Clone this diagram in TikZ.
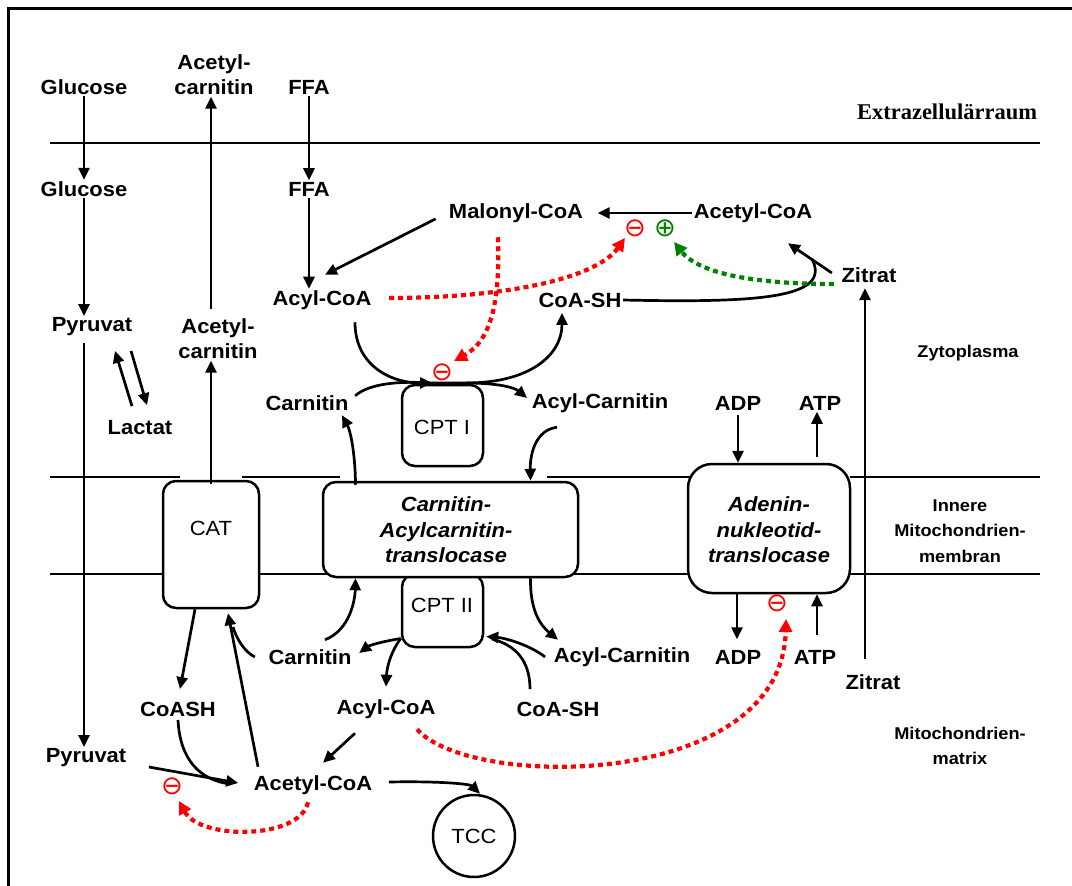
\documentclass[tikz,border=0pt]{standalone}
\usepackage{fontspec}
\setmainfont{Liberation Sans}[FakeStretch=1.07]
\newfontfamily\serifb{Liberation Serif}
\newfontfamily\symf{DejaVu Sans}
\usetikzlibrary{arrows.meta,calc}
\begin{document}
\begin{tikzpicture}[x=1pt,y=-1pt,
  lab/.style={font=\bfseries\fontsize{20.5}{25}\selectfont, inner sep=1.5, align=center},
  itl/.style={font=\bfseries\itshape\fontsize{20.5}{25.5}\selectfont, inner sep=0, align=center},
  reg/.style={font=\bfseries\fontsize{17}{25.5}\selectfont, inner sep=0, align=center},
  arr/.style={line width=2.7, -{Triangle[length=12,width=11]}},
  ln/.style={line width=2.7},
  mem/.style={line width=1.7},
  enz/.style={draw, line width=2.5, rounded corners=13, fill=white, inner sep=0},
  inh/.style={line width=4.2, dash pattern=on 5 off 4, -{Triangle[length=13,width=13]}},
  sym/.style={font=\symf\fontsize{26}{26}\selectfont, inner sep=0}
]
\useasboundingbox (0,0) rectangle (1072,886);
% frame
\draw[line width=3] (8,886) -- (8,8) -- (1072,8);
% membranes
\draw[mem] (50,143) -- (1040,143);
\draw[mem] (50,477) -- (180,477);
\draw[mem] (242,477) -- (340,477);
\draw[mem] (547,477) -- (690,477);
\draw[mem] (850,477) -- (1040,477);
\draw[mem] (50,574) -- (1040,574);

% region labels
\node[font=\serifb\bfseries\fontsize{22.5}{25}\selectfont, inner sep=0] (extra) at (947,112) {Extrazellulärraum};
\node[reg] (zyto) at (968,353) {Zytoplasma};
\node[reg] (imm) at (960,531) {Innere\\Mitochondrien-\\membran};
\node[reg] (matrix) at (960,746) {Mitochondrien-\\matrix};

% boxes
\node[enz, minimum width=81, minimum height=81] (cpt1) at (442.5,425.5) {};
\node[lab] (cpt1t) at (442,427) {\mdseries CPT I};
\node[enz, minimum width=81, minimum height=73] (cpt2) at (442.5,610.5) {};
\node[lab] (cpt2t) at (442,605) {\mdseries CPT II};
\node[enz, minimum width=96, minimum height=127] (cat) at (211,544.5) {};
\node[lab] (catt) at (211,528) {\mdseries CAT};
\node[enz, minimum width=255, minimum height=95] (trans) at (450.5,529.5) {};
\node[itl] (transt) at (446,530) {Carnitin-\\Acylcarnitin-\\translocase};
\node[enz, rounded corners=24, minimum width=162, minimum height=129] (aden) at (769,528.5) {};
\node[itl] (adent) at (769,530) {Adenin-\\nukleotid-\\translocase};
\node[circle, draw, line width=2.5, minimum size=82, inner sep=0, font=\fontsize{20.5}{25}\selectfont] (tcc) at (474,836) {TCC};

% labels
\node[lab] (glc1) at (84,87) {Glucose};
\node[lab] (acc1) at (214,75) {Acetyl-\\carnitin};
\node[lab] (ffa1) at (309,87) {FFA};
\node[lab] (glc2) at (84,189) {Glucose};
\node[lab] (ffa2) at (309,189) {FFA};
\node[lab] (mal) at (516,213) {Malonyl-CoA};
\node[lab] (acoa1) at (753,213) {Acetyl-CoA};
\node[lab] (zit1) at (869,275) {Zitrat};
\node[lab] (acyl1) at (322,300) {Acyl-CoA};
\node[lab] (coash1) at (580,300) {CoA-SH};
\node[lab] (pyr1) at (92,327) {Pyruvat};
\node[lab] (acc2) at (218,339) {Acetyl-\\carnitin};
\node[lab] (lac) at (140,428) {Lactat};
\node[lab] (carn1) at (307,403) {Carnitin};
\node[lab] (acarn1) at (600,403) {Acyl-Carnitin};
\node[lab] (adp1) at (738,403) {ADP};
\node[lab] (atp1) at (820,403) {ATP};
\node[lab] (carn2) at (310,657) {Carnitin};
\node[lab] (acarn2) at (622,657) {Acyl-Carnitin};
\node[lab] (adp2) at (738,657) {ADP};
\node[lab] (atp2) at (815,657) {ATP};
\node[lab] (zit2) at (873,682) {Zitrat};
\node[lab] (coash2) at (178,709) {CoASH};
\node[lab] (acyl2) at (386,709) {Acyl-CoA};
\node[lab] (coash3) at (558,709) {CoA-SH};
\node[lab] (pyr2) at (86,758) {Pyruvat};
\node[lab] (acoa2) at (313,785) {Acetyl-CoA};

% symbols
\node[sym, text=red] (m1) at (635,228) {⊖};
\node[sym, text=green!50!black] (p1) at (665,228) {⊕};
\node[sym, text=red] (m2) at (442,372) {⊖};
\node[sym, text=red] (m3) at (777,603) {⊖};
\node[sym, text=red] (m4) at (172,786) {⊖};

% left column
\draw[arr] (glc1) -- (glc2);
\draw[arr] (glc2.south) -- (glc2.south |- pyr1.north);
\draw[arr, shorten <=5] ([xshift=-8]pyr1.south) -- ([xshift=-2]pyr2.north);
\draw[arr] ([xshift=-8,yshift=13]lac.north) -- ([xshift=23,yshift=-13]pyr1.south);
\draw[arr] ([xshift=39,yshift=-13]pyr1.south) -- ([xshift=7,yshift=14]lac.north);
\draw[arr, shorten <=8] ([xshift=-7]acc2.north) -- ([xshift=-3]acc1.south);
\draw[arr, shorten <=-4] ([xshift=0]cat.north) -- ([xshift=-7]acc2.south);
\draw[arr] (ffa1) -- (ffa2);
\draw[arr] (ffa2.south) -- (ffa2.south |- acyl1.north);

% cytoplasm
\draw[arr, shorten <=13] (mal.west) -- ([xshift=3,yshift=14]acyl1.north);
\draw[arr, shorten >=13] (acoa1.west) -- (mal.east);
\draw[arr] ([xshift=-8,yshift=2]zit1.west) coordinate (zw) -- ([xshift=35,yshift=-19]acoa1.south);
\draw[ln] (coash1.east) .. controls (760,303) and (832,298) .. (812,259);
\draw[arr] ([xshift=-8]zit2.north) ++(0,-14) -- ([xshift=-4,yshift=-4]zit1.south);

% CPT I
\coordinate (j1) at (432,383);
\draw[arr] ([xshift=33,yshift=-11]acyl1.south) .. controls (355,365) and (390,383) .. (j1);
\draw[ln] ([xshift=5,yshift=-2]carn1.north east) .. controls (370,383) and (400,381) .. (j1);
\draw[arr] (j1) -- (466,383) .. controls (530,383) and (562,355) .. ([xshift=-18,yshift=-4]coash1.south);
\draw[arr] (466,383) .. controls (500,383) and (515,388) .. ([xshift=-3,yshift=5]acarn1.west);
\draw[arr] ([xshift=-43,yshift=-13]acarn1.south) .. controls (535,430) and (530,455) .. ([xshift=80]trans.north);
\draw[arr, shorten <=-4] ([xshift=-95]trans.north) .. controls (355,450) and (350,430) .. ([xshift=35,yshift=-3]carn1.south);

% CPT II
\draw[arr] ([xshift=15,yshift=8]carn2.north) .. controls (350,630) and (355,600) .. ([xshift=-95]trans.south);
\draw[arr] ([xshift=80]trans.south) .. controls (530,610) and (540,625) .. ([xshift=6,yshift=6]acarn2.north west);
\draw[arr] ([yshift=-28]cpt2.west) .. controls (385,641) and (370,645) .. ([xshift=6,yshift=4]carn2.east);
\draw[arr] ([yshift=-28]cpt2.west) .. controls (392,650) and (387,665) .. ([yshift=11]acyl2.north);
\draw[arr] ([xshift=-7]acarn2.west) .. controls (530,645) and (505,638) .. ([xshift=2,yshift=-26]cpt2.east);
\draw[ln] ([xshift=-28,yshift=11]coash3.north) .. controls (530,660) and (515,645) .. (492,639);

% CAT and matrix
\draw[arr] ([xshift=-16]cat.south) -- ([xshift=2,yshift=11]coash2.north);
\draw[arr] ([xshift=-55,yshift=7]acoa2.north) -- ([xshift=17,yshift=-4]cat.south);
\draw[ln] ([xshift=-12]carn2.west) .. controls (245,652) and (237,640) .. (233,627);
\draw[arr] ([xshift=21,yshift=-9]pyr2.east) -- ([xshift=-14,yshift=2]acoa2.west);
\draw[ln] ([yshift=-2]coash2.south) .. controls (180,760) and (200,780) .. (230,784);
\draw[arr] ([xshift=-31,yshift=-13]acyl2.south) -- ([xshift=10,yshift=11]acoa2.north);
\draw[arr] ([xshift=15,yshift=3]acoa2.east) .. controls (440,781) and (470,784) .. ([xshift=6]tcc.north);

% ADP / ATP
\draw[arr, shorten <=3] (adp1.south) -- (adp1.south |- aden.north);
\draw[arr, shorten <=6] ([xshift=48]aden.north) -- ([xshift=48]aden.north |- atp1.south);
\draw[arr, shorten >=9] ([xshift=-32]aden.south) -- ([xshift=-32]aden.south |- adp2.north);
\draw[arr, shorten <=13] ([xshift=48]aden.south |- atp2.north) -- ([xshift=48]aden.south);

% regulation
\draw[inh, red] ([xshift=16,yshift=2]acyl1.east) .. controls (500,298) and (595,280) .. ([xshift=-10,yshift=-10]m1.center);
\draw[inh, red] ([xshift=-18,yshift=-13]mal.south) .. controls (500,300) and (492,340) .. ([xshift=12,yshift=11]m2.center);
\draw[inh, green!50!black] ([yshift=-9]zit1.west) ++(-6,0) .. controls (760,284) and (700,275) .. ([xshift=9,yshift=-14]p1.center);
\draw[inh, red] ([xshift=-20,yshift=-9]acyl2.south east) .. controls (470,790) and (782,790) .. ([xshift=9,yshift=-16]m3.center);
\draw[inh, red] ([xshift=-5,yshift=-6]acoa2.south) .. controls (300,840) and (200,840) .. ([xshift=7,yshift=-15]m4.center);
\end{tikzpicture}
\end{document}
